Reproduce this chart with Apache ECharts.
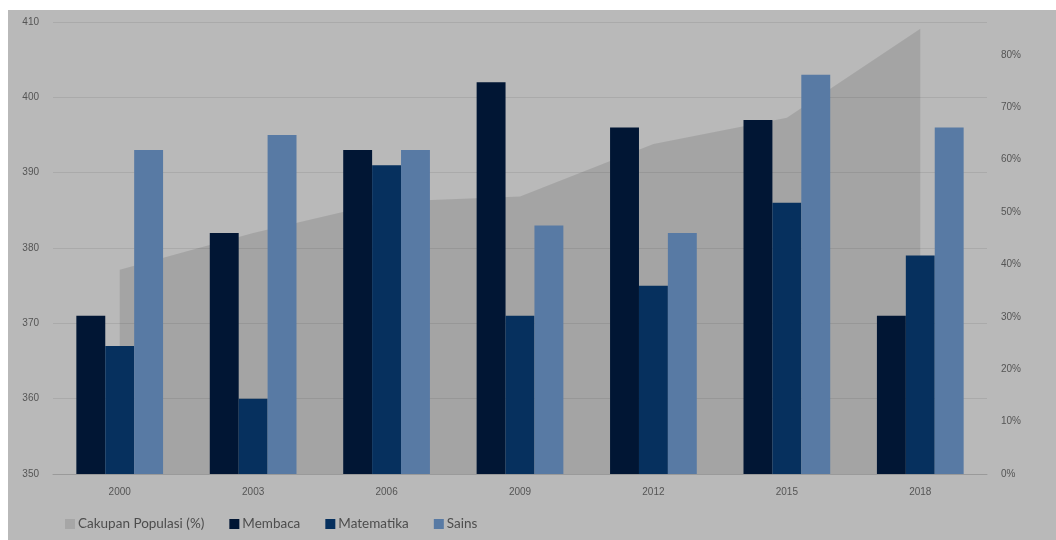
<!DOCTYPE html>
<html>
<head>
<meta charset="utf-8">
<script src="https://cdn.jsdelivr.net/npm/echarts@6/dist/echarts.min.js"></script>
<style>
html,body{margin:0;padding:0;background:#ffffff;width:1056px;height:540px;overflow:hidden;}
#chart{position:absolute;left:8px;top:10px;width:1048px;height:530px;background:#b9b9b9;}
</style>
</head>
<body>
<div id="chart"></div>
<script>
const categories = ['2000','2003','2006','2009','2012','2015','2018'];
const cakupan = [39, 46, 52, 53, 63, 68, 85];
const membaca = [371, 382, 393, 402, 396, 397, 371];
const matematika = [367, 360, 391, 371, 375, 386, 379];
const sains = [393, 395, 393, 383, 382, 403, 396];
const leftTicks = [350, 410, 10];
const rightTicks = [0, 80, 10];

const chart = echarts.init(document.getElementById('chart'), null, {renderer:'canvas'});
const axisFont = {color:'#555555', fontSize:10, fontFamily:'Liberation Sans'};
chart.setOption({
  animation:false,
  backgroundColor:'#b9b9b9',
  grid:{left:45, right:69, top:12, bottom:66, containLabel:false},
  legend:{
    bottom:4, left:52,
    itemWidth:10, itemHeight:10, itemGap:25,
    icon:'rect',
    textStyle:{color:'#4d4d4d', fontSize:13.5, fontFamily:'Lato', padding:[0,0,0,-2]},
    data:[
      {name:'Cakupan Populasi (%)', itemStyle:{color:'#a6a6a6'}},
      'Membaca','Matematika','Sains'
    ]
  },
  xAxis:{
    type:'category', data:categories, boundaryGap:true,
    axisLine:{show:true, lineStyle:{color:'#9a9a9a', width:1}},
    axisTick:{show:false},
    axisLabel:Object.assign({margin:13}, axisFont)
  },
  yAxis:[{
    type:'value', min:leftTicks[0], max:leftTicks[1], interval:leftTicks[2],
    axisLine:{show:false}, axisTick:{show:false},
    axisLabel:Object.assign({margin:14}, axisFont),
    splitLine:{show:true, lineStyle:{color:'#aaaaaa', width:1}}
  },{
    type:'value', min:rightTicks[0], max:86.3, interval:rightTicks[2],
    position:'right',
    axisLine:{show:false}, axisTick:{show:false},
    axisLabel:Object.assign({margin:14, showMaxLabel:false,
      formatter:function(v){return v<=rightTicks[1]?Math.round(v)+'%':'';}}, axisFont),
    splitLine:{show:false}
  }],
  series:[
    {
      name:'Cakupan Populasi (%)', type:'line', yAxisIndex:1, data:cakupan,
      symbol:'none', lineStyle:{width:0}, itemStyle:{color:'#a6a6a6'},
      areaStyle:{color:'rgba(0,0,0,0.11)', opacity:1}, z:1
    },
    {name:'Membaca', type:'bar', data:membaca, barGap:'0%', barCategoryGap:'35%',
     itemStyle:{color:'#011634'}, z:3},
    {name:'Matematika', type:'bar', data:matematika, barGap:'0%', barCategoryGap:'35%',
     itemStyle:{color:'#06305e'}, z:3},
    {name:'Sains', type:'bar', data:sains, barGap:'0%', barCategoryGap:'35%',
     itemStyle:{color:'#587aa4'}, z:3}
  ]
});
</script>
</body>
</html>
